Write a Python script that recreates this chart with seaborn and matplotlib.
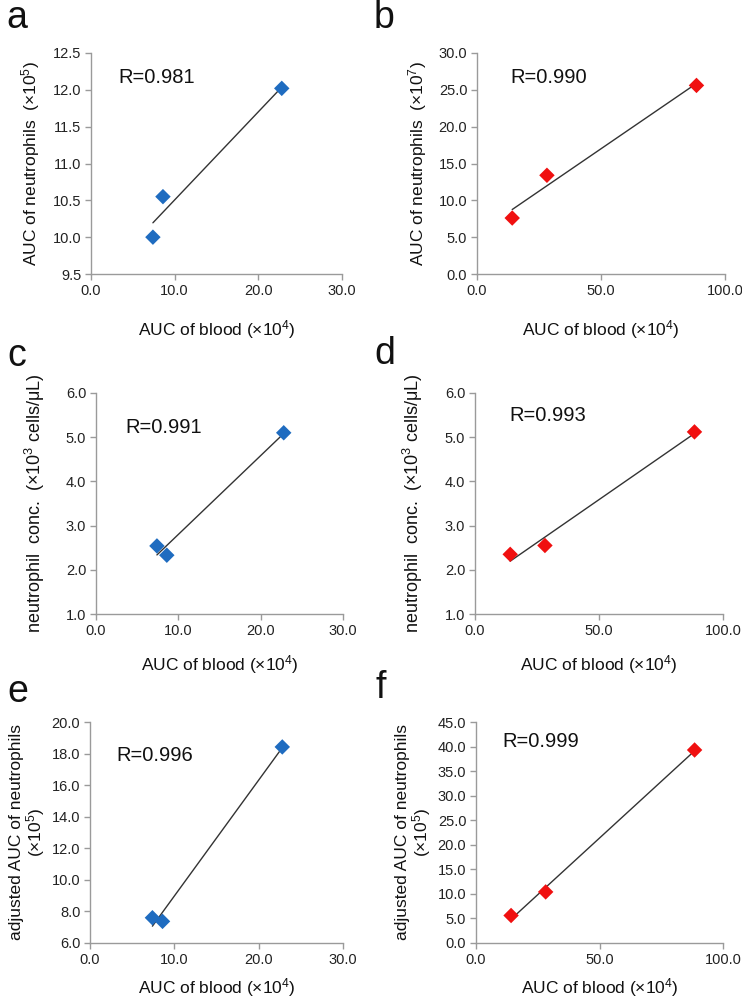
import matplotlib
matplotlib.use("Agg")
import matplotlib.pyplot as plt
import seaborn as sns
import numpy as np

# ---- data ----
blood_small = [7.4, 8.6, 22.8]          # AUC of blood (x10^4), blue series
blood_large = [14.2, 28.2, 88.5]        # AUC of blood (x10^4), red series
auc_neut_a = [10.0, 10.55, 12.02]       # panel a
auc_neut_b = [7.6, 13.4, 25.6]          # panel b
conc_c = [2.54, 2.33, 5.10]             # panel c
conc_d = [2.35, 2.55, 5.12]             # panel d
adj_e = [7.6, 7.37, 18.42]              # panel e
adj_f = [5.6, 10.4, 39.3]               # panel f
r_values = ["R=0.981", "R=0.990", "R=0.991", "R=0.993", "R=0.996", "R=0.999"]
panel_letters = ["a", "b", "c", "d", "e", "f"]

xticks_small = [0.0, 10.0, 20.0, 30.0]
xticks_large = [0.0, 50.0, 100.0]
yticks_a = [9.5, 10.0, 10.5, 11.0, 11.5, 12.0, 12.5]
yticks_b = [0.0, 5.0, 10.0, 15.0, 20.0, 25.0, 30.0]
yticks_cd = [1.0, 2.0, 3.0, 4.0, 5.0, 6.0]
yticks_e = [6.0, 8.0, 10.0, 12.0, 14.0, 16.0, 18.0, 20.0]
yticks_f = [0.0, 5.0, 10.0, 15.0, 20.0, 25.0, 30.0, 35.0, 40.0, 45.0]

xlabel = "AUC of blood (×10$^{4}$)"
ylabels = [
    "AUC of neutrophils  (×10$^{5}$)",
    "AUC of neutrophils  (×10$^{7}$)",
    "neutrophil  conc.  (×10$^{3}$ cells/μL)",
    "neutrophil  conc.  (×10$^{3}$ cells/μL)",
    "adjusted AUC of neutrophils\n(×10$^{5}$)",
    "adjusted AUC of neutrophils\n(×10$^{5}$)",
]

BLUE = "#1f6cc0"
RED = "#f01010"

sns.set_style("ticks")
plt.rcParams["font.family"] = ["Liberation Sans", "DejaVu Sans"]
plt.rcParams["mathtext.fontset"] = "custom"
plt.rcParams["mathtext.rm"] = "Liberation Sans"
plt.rcParams["mathtext.it"] = "Liberation Sans:italic"
plt.rcParams["mathtext.bf"] = "Liberation Sans:bold"

W, H = 742, 999
fig = plt.figure(figsize=(W / 100, H / 100), dpi=100)

# axes boxes in pixels: left, right, top, bottom
boxes = [
    (91, 342, 53, 274),
    (477, 725, 53, 274),
    (96, 343, 393, 614),
    (475, 723, 393, 614),
    (90, 343, 722, 943),
    (476, 723, 722, 943),
]
xs = [blood_small, blood_large, blood_small, blood_large, blood_small, blood_large]
ys = [auc_neut_a, auc_neut_b, conc_c, conc_d, adj_e, adj_f]
colors = [BLUE, RED, BLUE, RED, BLUE, RED]
xticks_all = [xticks_small, xticks_large] * 3
yticks_all = [yticks_a, yticks_b, yticks_cd, yticks_cd, yticks_e, yticks_f]
r_pos = [(0.11, 0.887), (0.133, 0.89), (0.12, 0.846), (0.14, 0.90), (0.105, 0.85), (0.105, 0.91)]
ylabel_x = [-0.195, -0.195, -0.2, -0.2, -0.17, -0.175]
ylabel_fs = [12.5, 12.5, 13.0, 13.0, 12.5, 12.5]
xlabel_y = [-0.2, -0.2, -0.175, -0.175, -0.15, -0.15]
letter_pos = [(6, 18), (374, 18), (7, 356), (374, 354), (7, 692), (376, 688)]

for i in range(6):
    l, r, t, b = boxes[i]
    ax = fig.add_axes([l / W, 1 - b / H, (r - l) / W, (b - t) / H])
    sns.regplot(
        x=np.array(xs[i]), y=np.array(ys[i]), ax=ax, ci=None, truncate=True,
        marker="D",
        scatter_kws=dict(color=colors[i], s=62, edgecolor="none", alpha=1.0, zorder=3),
        line_kws=dict(color="#333333", lw=1.0, zorder=2),
    )
    xt = xticks_all[i]
    yt = yticks_all[i]
    ax.set_xlim(xt[0], xt[-1])
    ax.set_ylim(yt[0], yt[-1])
    ax.set_xticks(xt)
    ax.set_yticks(yt)
    ax.set_xticklabels([f"{v:.1f}" for v in xt])
    ax.set_yticklabels([f"{v:.1f}" for v in yt])
    for s in ["top", "right"]:
        ax.spines[s].set_visible(False)
    for s in ["left", "bottom"]:
        ax.spines[s].set_color("#9a9a9a")
        ax.spines[s].set_linewidth(1.0)
    ax.tick_params(axis="both", length=4, width=1.0, color="#9a9a9a",
                   labelsize=10.5, labelcolor="#222222", pad=3)
    ax.set_xlabel(xlabel, fontsize=12.5, color="#111111")
    ax.set_ylabel(ylabels[i], fontsize=ylabel_fs[i], color="#111111", linespacing=1.0)
    ax.xaxis.set_label_coords(0.5, xlabel_y[i])
    ax.yaxis.set_label_coords(ylabel_x[i], 0.5)
    ax.text(r_pos[i][0], r_pos[i][1], r_values[i], transform=ax.transAxes,
            fontsize=14.5, ha="left", va="center", color="#111111")
    fig.text(letter_pos[i][0] / W, 1 - letter_pos[i][1] / H, panel_letters[i],
             fontsize=27, ha="left", va="center", color="#111111")

fig.savefig("out.png", dpi=100, facecolor="white")
